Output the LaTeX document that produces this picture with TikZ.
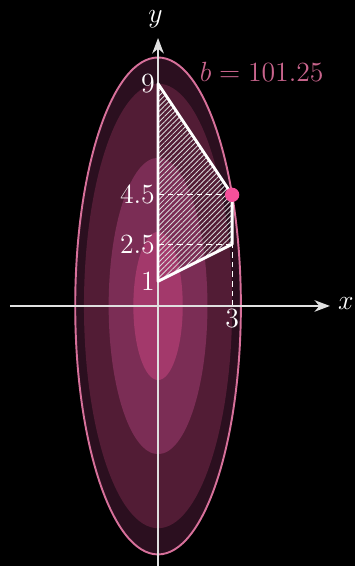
\documentclass[tikz,border=0pt]{standalone}
\usepackage{tikz}
\usetikzlibrary{
arrows.meta,
patterns.meta,
}
\definecolor{lvlA}{HTML}{2B0F1F}
\definecolor{lvlB}{HTML}{521C35}
\definecolor{lvlC}{HTML}{7B2D55}
\definecolor{lvlD}{HTML}{A3396B}
\definecolor{rim}{HTML}{D7709A}
\definecolor{rimtext}{HTML}{C8648C}
\definecolor{dotpink}{HTML}{F5509A}
\tikzset{axis/.style = {thick, white!88!black, -{Stealth[length=8pt,width=6pt,inset=2.5pt]}}}
\tikzset{region/.style = {line width=1.5pt, white, line join=round}}
\tikzset{hatch/.style = {pattern={Lines[angle=45,distance=1.9pt,line width=0.45pt]}, pattern color=white!85!black}}
\tikzset{guide/.style = {white, dashed, dash pattern=on 3pt off 2pt}}
\tikzset{tick/.style = {white, inner sep=1.5pt}}

\begin{document}
\begin{tikzpicture}[x=0.45cm,y=0.45cm,font=\fontsize{13.4}{16}\selectfont]
\fill[black] (-6.40,-10.53) rectangle (7.98,12.39);
\useasboundingbox (-6.40,-10.53) rectangle (7.98,12.39);
% level sets of 9x^2+y^2
\fill[lvlA] (0,0) ellipse [x radius=3.354, y radius=10.062];
\fill[lvlB] (0,0) ellipse [x radius=3, y radius=9];
\fill[lvlC] (0,0) ellipse [x radius=2, y radius=6];
\fill[lvlD] (0,0) ellipse [x radius=1, y radius=3];
\draw[rim, line width=1pt] (0,0) ellipse [x radius=3.354, y radius=10.062];
%
\coordinate (p1) at (0,1);
\coordinate (p9) at (0,9);
\coordinate (q45) at (3,4.5);
\coordinate (q25) at (3,2.5);
\coordinate (p45) at (0,4.5);
\coordinate (p25) at (0,2.5);
\coordinate (q0) at (3,0);
\fill[hatch] (p1) -- (p9) -- (q45) -- (q25) -- cycle;
\draw[guide] (p45) -- (q45);
\draw[guide] (p25) -- (q25);
\draw[guide] (q0) -- (q25);
%
\coordinate (xl) at (-6,0);
\coordinate (xr) at (6.96,0);
\coordinate (yb) at (0,-10.53);
\coordinate (yt) at (0,10.85);
\draw[axis] (xl) -- (xr);
\draw[axis] (yb) -- (yt);
\node[white] (xlab) at (7.6,0.1) {$x$};
\node[white] (ylab) at (-0.1,11.6) {$y$};
%
\draw[region] (p1) -- (p9) -- (q45) -- (q25) -- cycle;
\fill[dotpink] (q45) circle (0.29);
%
\node[tick, anchor=east] (t9) at (p9) {$9$};
\node[tick, anchor=east] (t45) at (p45) {$4.5$};
\node[tick, anchor=east] (t25) at (p25) {$2.5$};
\node[tick, anchor=east] (t1) at (p1) {$1$};
\node[tick, anchor=north] (t3) at (q0) {$3$};
\node[rimtext] (blab) at (4.2,9.5) {$b=101.25$};
\end{tikzpicture}
\end{document}
